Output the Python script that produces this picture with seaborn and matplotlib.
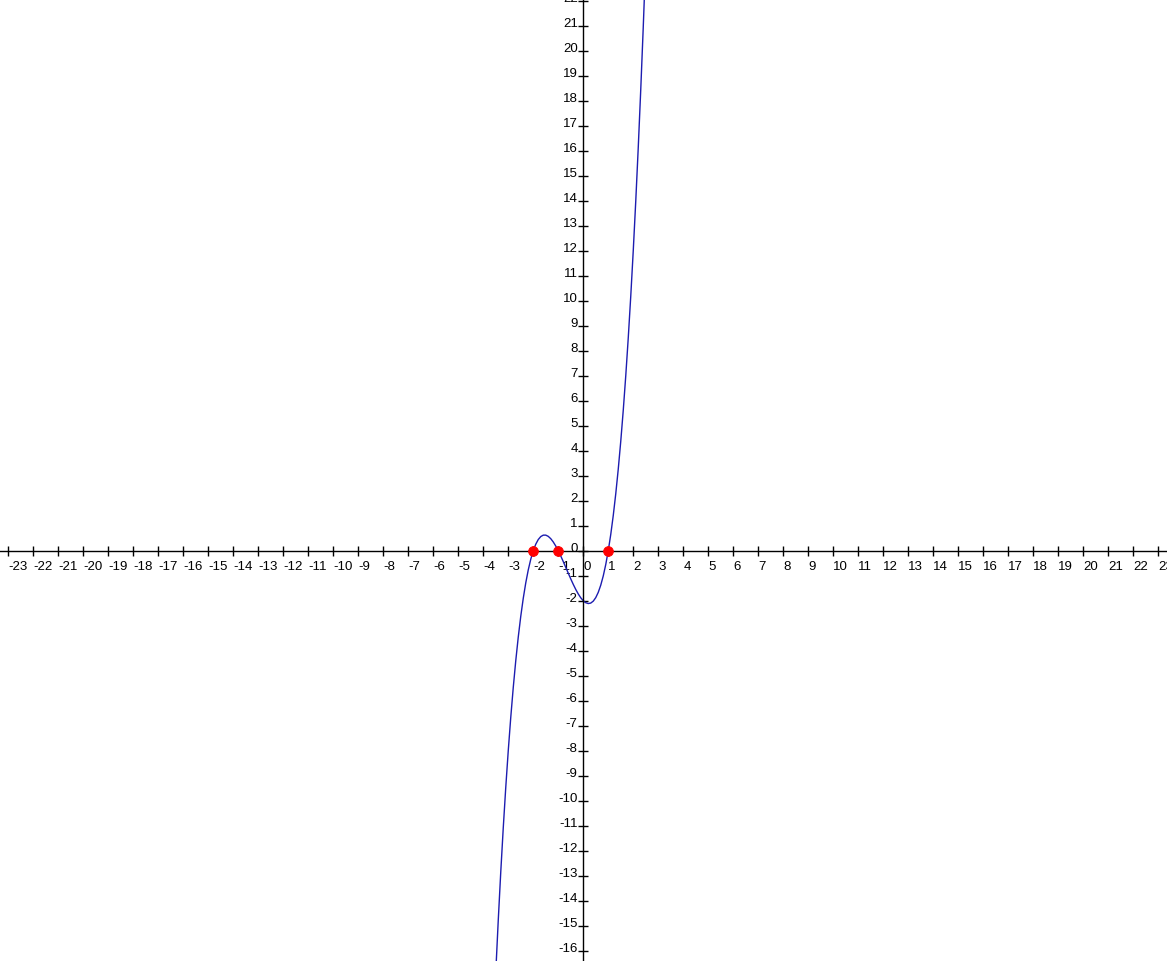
import matplotlib
matplotlib.use("Agg")
import matplotlib.pyplot as plt
import seaborn as sns

# Curve samples
curve_x = [-3.5, -3.4, -3.3, -3.2, -3.1, -3.0, -2.9, -2.8, -2.7, -2.6,
           -2.5, -2.4, -2.3, -2.2, -2.1, -2.0, -1.9, -1.8, -1.7, -1.6,
           -1.5, -1.4, -1.3, -1.2, -1.1, -1.0, -0.9, -0.8, -0.7, -0.6,
           -0.5, -0.4, -0.3, -0.2, -0.1, 0.0, 0.1, 0.2, 0.3, 0.4,
           0.5, 0.6, 0.7, 0.8, 0.9, 1.0, 1.1, 1.2, 1.3, 1.4,
           1.5, 1.6, 1.7, 1.8, 1.9, 2.0, 2.1, 2.2, 2.3, 2.4, 2.5]
curve_y = [-16.875, -14.784, -12.857, -11.088, -9.471, -8.0, -6.669, -5.472, -4.403, -3.456,
           -2.625, -1.904, -1.287, -0.768, -0.341, 0.0, 0.261, 0.448, 0.567, 0.624,
           0.625, 0.576, 0.483, 0.352, 0.189, 0.0, -0.209, -0.432, -0.663, -0.896,
           -1.125, -1.344, -1.547, -1.728, -1.881, -2.0, -2.079, -2.112, -2.093, -2.016,
           -1.875, -1.664, -1.377, -1.008, -0.551, 0.0, 0.651, 1.408, 2.277, 3.264,
           4.375, 5.616, 6.993, 8.512, 10.179, 12.0, 13.981, 16.128, 18.447, 20.944, 23.625]

# Roots marked in red
root_x = [-2, -1, 1]
root_y = [0, 0, 0]

x_ticks = list(range(-23, 24))
y_ticks = list(range(-16, 23))

sns.set_style("white")
plt.rcParams['font.family'] = ['Liberation Sans', 'DejaVu Sans']

fig = plt.figure(figsize=(11.67, 9.62), dpi=100)
ax = fig.add_axes([0, 0, 1, 1])

sns.lineplot(x=curve_x, y=curve_y, ax=ax, color="#1c1cb0", linewidth=1.0,
             sort=False, estimator=None)
sns.scatterplot(x=root_x, y=root_y, ax=ax, color="#ff0000", s=50,
                edgecolor="#ff0000", zorder=5)

ax.set_xlim(-23.33, 23.35)
ax.set_ylim(-16.41, 22.07)

# axes through the origin
for side in ["top", "right"]:
    ax.spines[side].set_visible(False)
ax.spines["left"].set_position(("data", 0))
ax.spines["bottom"].set_position(("data", 0))
for side in ["left", "bottom"]:
    ax.spines[side].set_color("black")
    ax.spines[side].set_linewidth(1)

ax.set_xticks(x_ticks)
ax.set_xticklabels([str(t) for t in x_ticks], ha="left")
ax.set_yticks(y_ticks)
ax.set_yticklabels([str(t) for t in y_ticks], va="baseline")

ax.tick_params(axis="both", direction="inout", length=7, width=1,
               color="black", labelsize=9.5, labelcolor="black",
               bottom=True, left=True)
ax.tick_params(axis="x", pad=3)
ax.tick_params(axis="y", pad=0.5)

ax.set_xlabel("")
ax.set_ylabel("")

fig.savefig("out.png", dpi=100)
